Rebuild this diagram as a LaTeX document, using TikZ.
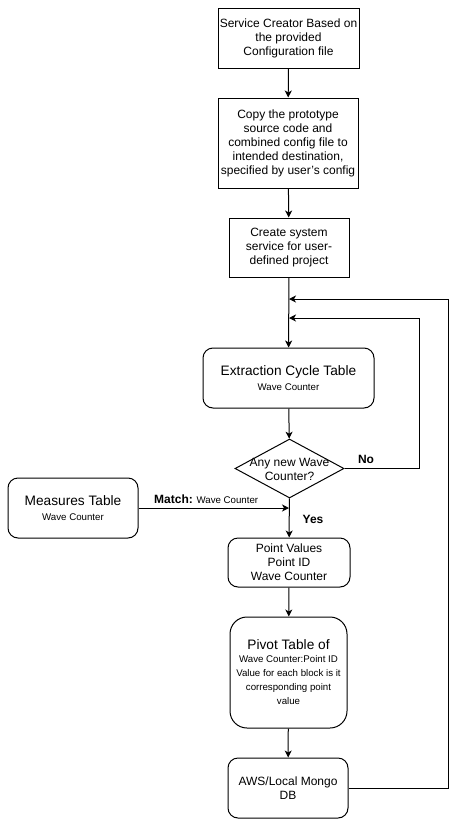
\documentclass[tikz,border=0pt]{standalone}
\usepackage{fontspec}
\setmainfont{Liberation Sans}
\usetikzlibrary{shapes.geometric,arrows.meta}
\newcommand{\nrmfs}{\fontsize{12}{14}\selectfont}
\newcommand{\bigfs}{\fontsize{13.7}{16}\selectfont}
\newcommand{\smlfs}{\fontsize{9.7}{14}\selectfont}
\tikzset{
  box/.style={draw, line width=1pt, align=center, inner sep=0pt, font=\nrmfs},
  rbox/.style={box, rounded corners=10pt},
  conn/.style={line width=1pt, -{Stealth[length=7pt,width=7pt,inset=2pt]}},
  lbl/.style={font=\bfseries\nrmfs, inner sep=0pt}
}
\begin{document}
\begin{tikzpicture}[x=1pt,y=-1pt]
\useasboundingbox (0,0) rectangle (465,827);
\node[box, minimum width=141pt, minimum height=60pt] (s1) at (288.5,38) {Service Creator Based on\\the provided\\Configuration file};
\node[box, minimum width=140pt, minimum height=90pt] (s2) at (288,143) {Copy the prototype\\source code and\\combined config file to\\intended destination,\\specified by user's config};
\node[box, minimum width=120pt, minimum height=59pt] (s3) at (289,247.5) {Create system\\service for user-\\defined project};
\node[rbox, minimum width=171pt, minimum height=60pt] (ext) at (288.5,378) {{\bigfs Extraction Cycle Table}\\[1pt]{\smlfs Wave Counter}};
\node[draw, diamond, line width=1pt, minimum width=109pt, minimum height=59pt, inner sep=0pt] (dec) at (289.5,468.5) {};
\node[align=center, font=\nrmfs, inner sep=0pt] (dect) at (289.5,469) {Any new Wave\\Counter?};
\node[rbox, minimum width=130pt, minimum height=60pt] (meas) at (73,508) {{\bigfs Measures Table}\\[1pt]{\smlfs Wave Counter}};
\node[rbox, minimum width=122pt, minimum height=49pt] (pv) at (289,562.5) {Point Values\\Point ID\\Wave Counter};
\node[box, rounded corners=17pt, minimum width=117pt, minimum height=111pt] (piv) at (288.5,672.5) {{\bigfs Pivot Table of}\\[-1pt]{\smlfs Wave Counter:Point ID}\\{\smlfs Value for each block is it}\\{\smlfs corresponding point}\\{\smlfs value}};
\node[rbox, minimum width=120pt, minimum height=60pt] (aws) at (288,788) {AWS/Local Mongo\\DB};

\coordinate (j1) at (289,299);
\coordinate (j2) at (289,318);
\coordinate (j3) at (289,508);
\coordinate (r1) at (448,788);
\coordinate (r1t) at (448,299);
\coordinate (r2) at (419,468.5);
\coordinate (r2t) at (419,318);

\draw[conn] (s1) -- (s2);
\draw[conn] (s2) -- (s3);
\draw[conn] (s3) -- (ext);
\draw[conn] (ext) -- (dec);
\draw[conn] (dec) -- (pv);
\draw[conn] (pv) -- (piv);
\draw[conn] (piv) -- (aws);
\draw[conn] (dec.east) -- (r2) -- (r2t) -- (j2);
\draw[conn] (aws.east) -- (r1) -- (r1t) -- (j1);
\draw[conn] (meas.east) -- (j3);

\node[lbl] (no) at (366,459) {No};
\node[lbl] (yes) at (313,519) {Yes};
\node[anchor=west, inner sep=0pt] (match) at (154,499) {{\bfseries\nrmfs Match:} {\smlfs Wave Counter}};
\end{tikzpicture}
\end{document}
